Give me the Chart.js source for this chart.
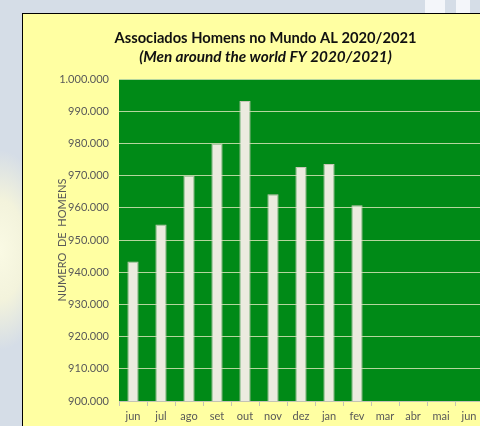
<!DOCTYPE html>
<html>
<head>
<meta charset="utf-8">
<script src="https://cdn.jsdelivr.net/npm/chart.js@4/dist/chart.umd.min.js"></script>
<style>
    html, body { margin: 0; padding: 0; }
    body {
        width: 480px; height: 426px; overflow: hidden; position: relative;
        background: radial-gradient(ellipse 50px 100px at 0px 250px, #fafae4 0%, #f3f3dc 50%, rgba(213,221,231,0) 100%), #d5dde7;
    }
    .stripe { position: absolute; top: 0; height: 13px; background: #f4f6fa; }
    #box {
        position: absolute; left: 22px; top: 13px; width: 484px; height: 420px;
        border: 1px solid #000; background: #ffffa2;
    }
    canvas { display: block; }
</style>
</head>
<body>
<div class="stripe" style="left:425px;width:20px"></div>
<div class="stripe" style="left:456px;width:14px"></div>
<div id="box"><canvas id="barChart"></canvas></div>
<script>
    // dados
    const meses = ['jun', 'jul', 'ago', 'set', 'out', 'nov', 'dez', 'jan', 'fev', 'mar', 'abr', 'mai', 'jun'];
    const homens = [943300, 954800, 970000, 980000, 993200, 964200, 972700, 973600, 960800, null, null, null, null];
    const yMin = 900000;
    const yMax = 1000000;
    const yStep = 10000;

    const fmt = v => String(v).replace(/\B(?=(\d{3})+(?!\d))/g, '.');

    // fundo verde da área do gráfico
    const plotBg = {
        id: 'plotBg',
        beforeDraw(chart) {
            const { ctx, chartArea: a } = chart;
            ctx.save();
            ctx.fillStyle = '#008a17';
            ctx.fillRect(a.left, a.top, a.right - a.left, a.bottom - a.top);
            ctx.restore();
        }
    };

    const canvas = document.getElementById('barChart');
    canvas.width = 476;
    canvas.height = 413;

    new Chart(canvas, {
        type: 'bar',
        data: {
            labels: meses,
            datasets: [{
                label: 'Homens',
                data: homens,
                backgroundColor: '#ecebdf',
                borderColor: '#c8c7b6',
                borderWidth: 1,
                barPercentage: 0.4,
                categoryPercentage: 1
            }]
        },
        options: {
            responsive: false,
            animation: false,
            layout: { padding: { left: 25, right: 16, top: 0, bottom: 0 } },
            plugins: {
                legend: { display: false },
                tooltip: { enabled: false },
                title: {
                    display: true,
                    text: 'Associados Homens no Mundo AL 2020/2021',
                    color: '#111',
                    font: { family: 'Lato', size: 14.7, weight: 'bold' },
                    padding: { top: 15, bottom: 0 }
                },
                subtitle: {
                    display: true,
                    text: '(Men around the world FY 2020/2021)',
                    color: '#111',
                    font: { family: 'Lato', size: 15.3, weight: 'bold', style: 'italic' },
                    padding: { top: 1, bottom: 13 }
                }
            },
            scales: {
                x: {
                    afterFit: s => { s.height = 26; },
                    grid: {
                        offset: true,
                        drawOnChartArea: false,
                        tickLength: 5,
                        color: '#c4c4b4'
                    },
                    border: { color: '#c4c4b4' },
                    ticks: {
                        color: '#595959',
                        padding: 4,
                        font: { family: 'Lato', size: 11 }
                    }
                },
                y: {
                    min: yMin,
                    max: yMax,
                    afterFit: s => { s.width = 71; },
                    grid: {
                        color: '#b4d69e',
                        lineWidth: 1,
                        tickLength: 0
                    },
                    border: { display: false },
                    ticks: {
                        stepSize: yStep,
                        color: '#595959',
                        padding: 10,
                        font: { family: 'Lato', size: 11 },
                        callback: v => fmt(v)
                    },
                    title: {
                        display: true,
                        text: 'NUMERO  DE  HOMENS',
                        color: '#595959',
                        padding: { top: 8, bottom: 0 },
                        font: { family: 'Lato', size: 11 }
                    }
                }
            }
        },
        plugins: [plotBg]
    });
</script>
</body>
</html>
